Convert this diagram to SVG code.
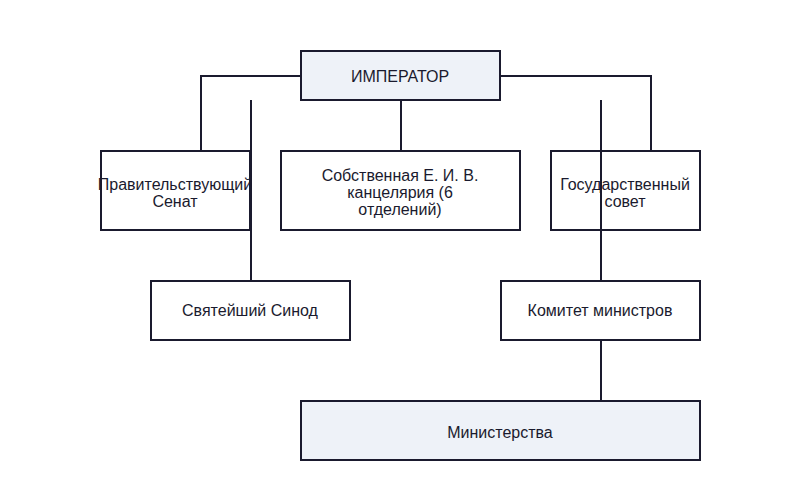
<svg xmlns="http://www.w3.org/2000/svg" width="800" height="500" viewBox="0 0 800 500">
<style>
.b{fill:#fff;stroke:#1a1a2e;stroke-width:2}
.h{fill:#eef2f8;stroke:#1a1a2e;stroke-width:2}
text{font-family:"Liberation Sans",Arial,sans-serif;font-size:16px;fill:#1a1a2e;text-anchor:middle}
.c{fill:none;stroke:#1a1a2e;stroke-width:2}
</style>
<rect width="800" height="500" fill="#fff"/>
<g id="n-imp"><rect class="h" x="301" y="51" width="199" height="49"/><text x="400" y="82">ИМПЕРАТОР</text></g>
<g id="n-senat"><rect class="b" x="101" y="151" width="149" height="79"/><text x="175" y="190">Правительствующий</text><text x="175" y="207">Сенат</text></g>
<g id="n-kanc"><rect class="b" x="281" y="151" width="239" height="79"/><text x="400" y="181">Собственная Е. И. В.</text><text x="400" y="198">канцелярия (6</text><text x="400" y="215">отделений)</text></g>
<g id="n-sovet"><rect class="b" x="551" y="151" width="149" height="79"/><text x="625" y="190">Государственный</text><text x="625" y="207">совет</text></g>
<g id="n-synod"><rect class="b" x="151" y="281" width="199" height="59"/><text x="250" y="316">Святейший Синод</text></g>
<g id="n-kom"><rect class="b" x="501" y="281" width="199" height="59"/><text x="600" y="316">Комитет министров</text></g>
<g id="n-min"><rect class="h" x="301" y="401" width="399" height="59"/><text x="500" y="438">Министерства</text></g>
<g id="connectors">
<path class="c" d="M301 76H201V151"/>
<path class="c" d="M500 76H651V151"/>
<path class="c" d="M401 100V151"/>
<path class="c" d="M251 100V281"/>
<path class="c" d="M601 100V281"/>
<path class="c" d="M601 340V401"/>
</g>
</svg>
